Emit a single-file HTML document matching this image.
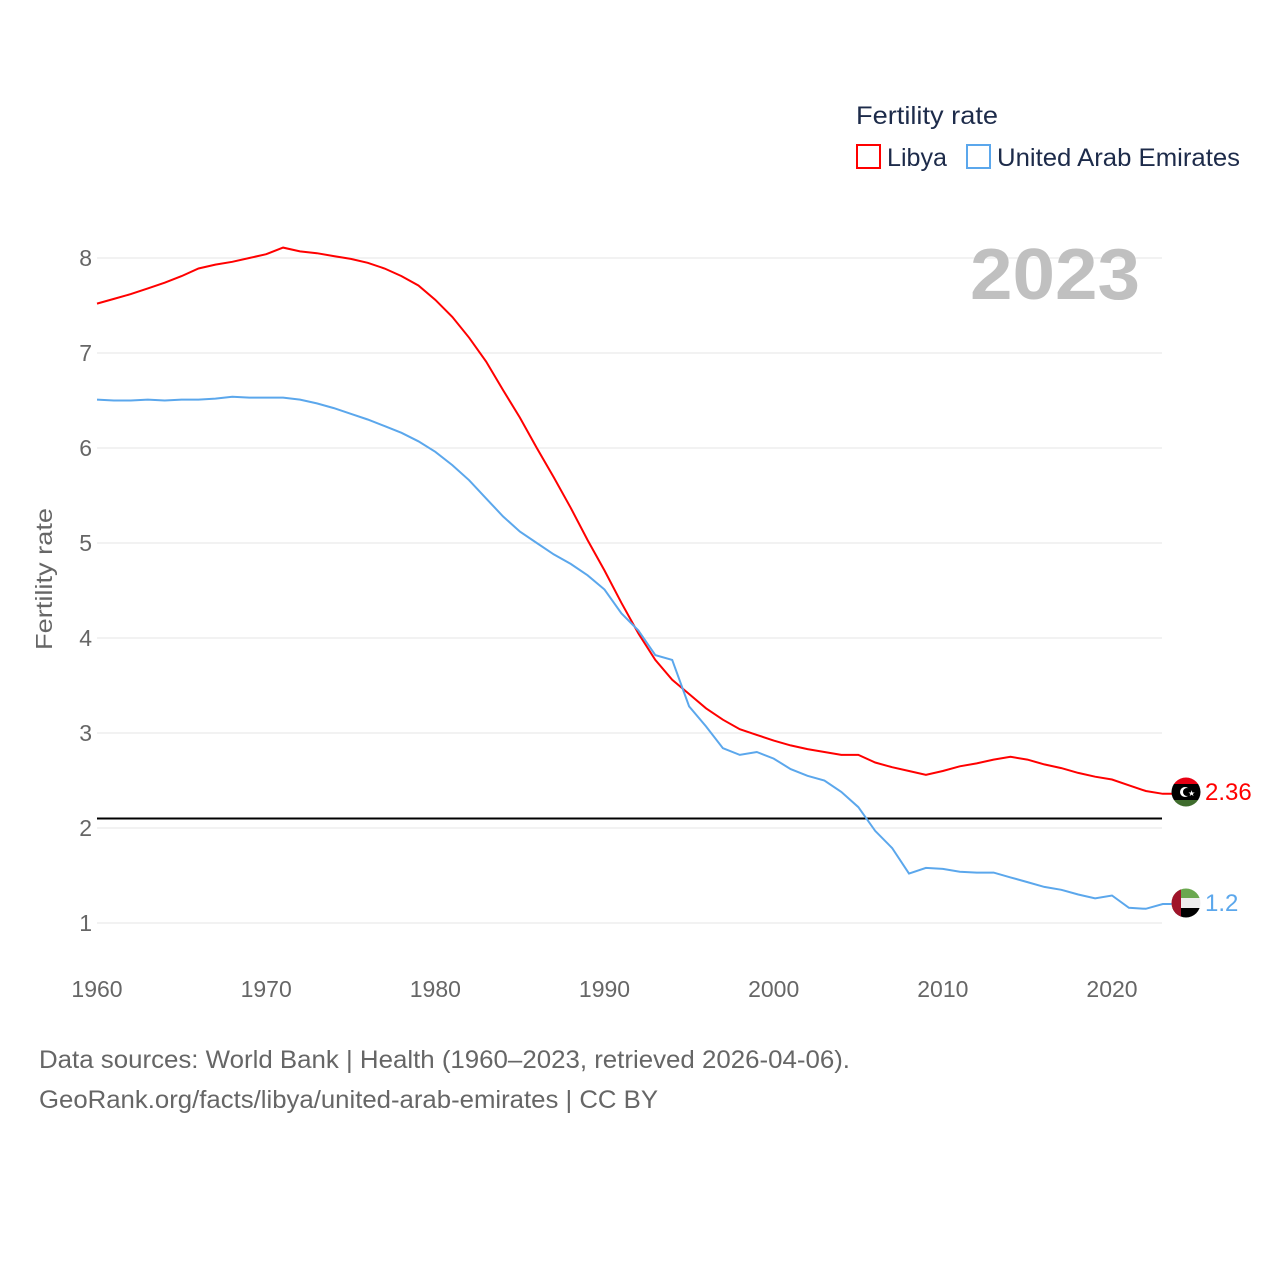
<!DOCTYPE html>
<html><head><meta charset="utf-8"><style>
html,body{margin:0;padding:0;background:#fff;}
body{width:1280px;height:1280px;position:relative;font-family:"Liberation Sans",sans-serif;}
svg{position:absolute;left:0;top:0;}
</style></head><body>
<svg id="chart" width="1280" height="1280" font-family="Liberation Sans, sans-serif">
<defs>
<clipPath id="c1"><circle cx="1186" cy="792" r="14.5"/></clipPath>
<clipPath id="c2"><circle cx="1186" cy="903" r="14.5"/></clipPath>
</defs>
<g id="grid"></g>
<g id="yticks"></g>
<g id="xticks"></g>
<text x="52" y="579" transform="rotate(-90 52 579)" text-anchor="middle" font-size="23" fill="#666" textLength="142" lengthAdjust="spacingAndGlyphs">Fertility rate</text>
<text x="970" y="299" font-size="72" font-weight="bold" fill="#c0c0c0" textLength="170" lengthAdjust="spacingAndGlyphs">2023</text>
<line id="ref" x1="97" x2="1162" stroke="#000" stroke-width="2"/>
<path id="libya" fill="none" stroke="#ff0000" stroke-width="2"/>
<path id="uae" fill="none" stroke="#5ba7ec" stroke-width="2"/>
<g clip-path="url(#c1)">
<rect x="1170" y="776" width="32" height="8" fill="#e70013"/><rect x="1170" y="784" width="32" height="16" fill="#000"/><rect x="1170" y="800" width="32" height="8" fill="#3f6c2d"/>
<circle cx="1185" cy="792" r="5" fill="#fff"/><circle cx="1187" cy="792" r="4" fill="#000"/><text x="1188" y="796" font-size="8" fill="#fff">★</text>
</g>
<g clip-path="url(#c2)">
<rect x="1170" y="887" width="32" height="11" fill="#6aa84f"/><rect x="1170" y="898" width="32" height="10" fill="#eee"/><rect x="1170" y="908" width="32" height="12" fill="#000"/><rect x="1170" y="887" width="11" height="32" fill="#a0142a"/>
</g>
<text id="libVal" x="1205" y="800" font-size="24" fill="#ff0000">2.36</text>
<text id="uaeVal" x="1205" y="911" font-size="24" fill="#5ba7ec">1.2</text>
<g>
<text x="856" y="124" font-size="25" fill="#1d2b4a" textLength="142" lengthAdjust="spacingAndGlyphs">Fertility rate</text>
<rect x="857" y="145" width="23" height="23" fill="none" stroke="#ff0000" stroke-width="2"/>
<text x="887" y="166" font-size="25" fill="#1d2b4a" textLength="60" lengthAdjust="spacingAndGlyphs">Libya</text>
<rect x="967" y="145" width="23" height="23" fill="none" stroke="#5ba7ec" stroke-width="2"/>
<text x="997" y="166" font-size="25" fill="#1d2b4a" textLength="243" lengthAdjust="spacingAndGlyphs">United Arab Emirates</text>
</g>
<text x="39" y="1068" font-size="25" fill="#666" textLength="811" lengthAdjust="spacingAndGlyphs">Data sources: World Bank | Health (1960–2023, retrieved 2026-04-06).</text>
<text x="39" y="1108" font-size="25" fill="#666" textLength="619" lengthAdjust="spacingAndGlyphs">GeoRank.org/facts/libya/united-arab-emirates | CC BY</text>
</svg>
<script>
const years=[];for(let y=1960;y<=2023;y++)years.push(y);
const libya=[7.52,7.57,7.62,7.68,7.74,7.81,7.89,7.93,7.96,8.00,8.04,8.11,8.07,8.05,8.02,7.99,7.95,7.89,7.81,7.71,7.56,7.38,7.16,6.91,6.61,6.32,6.00,5.69,5.37,5.03,4.71,4.37,4.05,3.77,3.56,3.41,3.26,3.14,3.04,2.98,2.92,2.87,2.83,2.80,2.77,2.77,2.69,2.64,2.60,2.56,2.60,2.65,2.68,2.72,2.75,2.72,2.67,2.63,2.58,2.54,2.51,2.45,2.39,2.36];
const uae=[6.51,6.50,6.50,6.51,6.50,6.51,6.51,6.52,6.54,6.53,6.53,6.53,6.51,6.47,6.42,6.36,6.30,6.23,6.16,6.07,5.96,5.82,5.66,5.47,5.28,5.12,5.00,4.88,4.78,4.66,4.51,4.26,4.08,3.82,3.77,3.28,3.07,2.84,2.77,2.80,2.73,2.62,2.55,2.50,2.38,2.22,1.97,1.79,1.52,1.58,1.57,1.54,1.53,1.53,1.48,1.43,1.38,1.35,1.30,1.26,1.29,1.16,1.15,1.20];
const yTicks=[1,2,3,4,5,6,7,8];
const xTicks=[1960,1970,1980,1990,2000,2010,2020];
const replacement=2.1;
const X=y=>97+(y-1960)*(1015/60);
const Y=v=>923-(v-1)*95;
const NS='http://www.w3.org/2000/svg';
const grid=document.getElementById('grid'),yt=document.getElementById('yticks'),xt=document.getElementById('xticks');
yTicks.forEach(v=>{
 const l=document.createElementNS(NS,'line');
 l.setAttribute('x1',97);l.setAttribute('x2',1162);l.setAttribute('y1',Y(v));l.setAttribute('y2',Y(v));
 l.setAttribute('stroke','#e6e6e6');l.setAttribute('stroke-width',1);
 
 
 grid.appendChild(l);
 const t=document.createElementNS(NS,'text');
 t.setAttribute('x',92);t.setAttribute('y',Y(v)+8);t.setAttribute('text-anchor','end');
 t.setAttribute('font-size',23);t.setAttribute('fill','#666');t.textContent=v;
 
 
 yt.appendChild(t);
});
xTicks.forEach(v=>{
 const t=document.createElementNS(NS,'text');
 t.setAttribute('x',X(v));t.setAttribute('y',997);t.setAttribute('text-anchor','middle');
 t.setAttribute('font-size',23);t.setAttribute('fill','#666');t.textContent=v;
 
 
 xt.appendChild(t);
});
const r=document.getElementById('ref');r.setAttribute('y1',Y(replacement));r.setAttribute('y2',Y(replacement));
const path=a=>a.map((v,i)=>(i?'L':'M')+X(years[i]).toFixed(1)+','+Y(v).toFixed(1)).join('');
document.getElementById('libya').setAttribute('d',path(libya)+'L1172,'+Y(libya[libya.length-1]).toFixed(1));
document.getElementById('uae').setAttribute('d',path(uae)+'L1172,'+Y(uae[uae.length-1]).toFixed(1));
document.getElementById('libVal').textContent=libya[libya.length-1];
document.getElementById('uaeVal').textContent=uae[uae.length-1];
</script>
</body></html>
